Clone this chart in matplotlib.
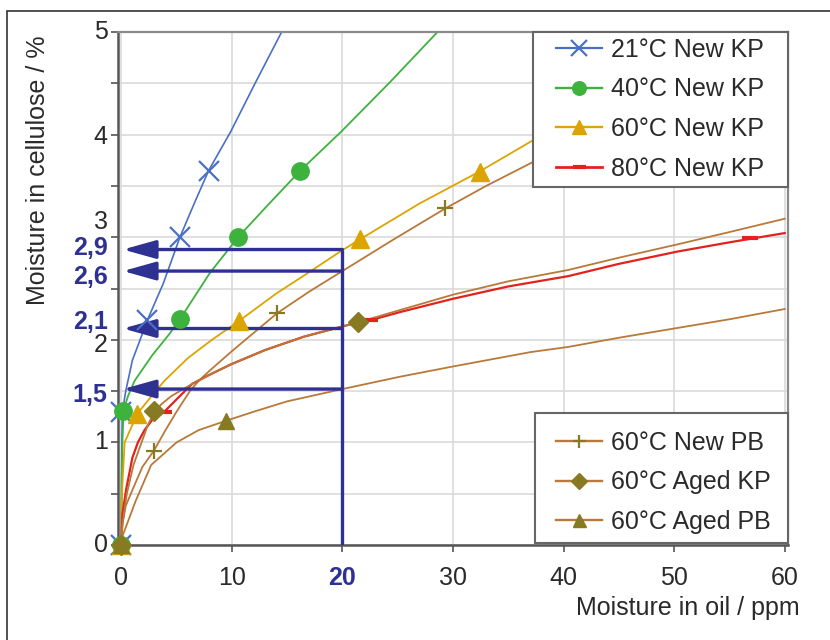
import matplotlib
matplotlib.use("Agg")
import matplotlib.pyplot as plt
from matplotlib.lines import Line2D
from matplotlib.patches import Rectangle, FancyArrowPatch

plt.rcParams['font.family'] = ['Liberation Sans', 'DejaVu Sans']

# ---------------- data ----------------
# 21°C New KP
kp21_curve_x = [0, 0.02, 0.05, 0.1, 0.4, 1.0, 1.7, 2.35, 3.8, 5.3, 6.6, 7.9, 9.9, 12.1, 14.5]
kp21_curve_y = [0, 0.5, 1.0, 1.3, 1.5, 1.8, 2.0, 2.19, 2.55, 3.0, 3.33, 3.65, 4.03, 4.5, 5.0]
kp21_mark_x = [0, 0.0, 2.35, 5.3, 7.9]
kp21_mark_y = [0, 1.3, 2.19, 3.0, 3.65]

# 40°C New KP
kp40_curve_x = [0, 0.03, 0.1, 0.2, 0.6, 1.2, 2.8, 4.3, 5.3, 8.0, 10.56, 13.4, 16.2, 19.9, 24.2, 28.6]
kp40_curve_y = [0, 0.6, 1.0, 1.31, 1.45, 1.6, 1.85, 2.05, 2.2, 2.65, 3.0, 3.33, 3.65, 4.03, 4.5, 5.0]
kp40_mark_x = [0, 0.15, 5.3, 10.56, 16.2]
kp40_mark_y = [0, 1.31, 2.2, 3.0, 3.65]

# 60°C New KP
kp60_curve_x = [0, 0.05, 0.3, 1.45, 3.1, 3.9, 6.0, 8.2, 10.6, 14.0, 17.0, 19.8, 21.6, 27.0, 32.4, 37.0, 39.0]
kp60_curve_y = [0, 0.5, 1.0, 1.28, 1.5, 1.6, 1.82, 2.0, 2.18, 2.45, 2.66, 2.86, 2.98, 3.33, 3.64, 3.93, 4.05]
kp60_mark_x = [0, 1.45, 10.6, 21.6, 32.4]
kp60_mark_y = [0, 1.28, 2.18, 2.98, 3.64]

# 80°C New KP
kp80_curve_x = [0, 0.1, 0.45, 1.0, 1.5, 2.1, 2.8, 3.9, 5.0, 6.4, 8.0, 9.9, 13.0, 16.5, 20.0, 21.4, 22.5, 25.2, 30.0, 35.0, 40.4, 45.0, 50.3, 55.0, 60.0]
kp80_curve_y = [0, 0.3, 0.55, 0.85, 1.0, 1.12, 1.22, 1.3, 1.42, 1.57, 1.66, 1.76, 1.9, 2.03, 2.13, 2.17, 2.19, 2.27, 2.4, 2.52, 2.62, 2.74, 2.86, 2.95, 3.04]
kp80_mark_x = [0, 3.9, 22.5, 56.9]
kp80_mark_y = [0, 1.3, 2.19, 2.99]

# 60°C New PB
pb60_curve_x = [0, 0.1, 0.4, 0.9, 1.9, 2.95, 4.0, 5.0, 6.2, 7.0, 8.0, 9.9, 12.0, 14.1, 17.0, 20.0, 24.5, 29.3, 33.0, 37.0, 39.0]
pb60_curve_y = [0, 0.2, 0.38, 0.51, 0.76, 0.92, 1.12, 1.3, 1.5, 1.6, 1.7, 1.88, 2.07, 2.26, 2.47, 2.67, 2.97, 3.28, 3.5, 3.72, 3.83]
pb60_mark_x = [0, 2.95, 14.1, 29.3]
pb60_mark_y = [0, 0.92, 2.26, 3.28]

# 60°C Aged KP
akp_curve_x = [0, 0.1, 0.5, 1.1, 1.9, 2.4, 2.95, 3.6, 4.5, 6.4, 8.0, 9.9, 13.0, 16.5, 20.0, 21.4, 25.2, 30.0, 35.0, 40.4, 45.0, 50.3, 55.0, 60.0]
akp_curve_y = [0, 0.2, 0.5, 0.78, 1.02, 1.17, 1.29, 1.37, 1.45, 1.57, 1.66, 1.76, 1.9, 2.03, 2.13, 2.17, 2.29, 2.44, 2.57, 2.68, 2.8, 2.93, 3.05, 3.18]
akp_mark_x = [0, 2.95, 21.4]
akp_mark_y = [0, 1.31, 2.17]

# 60°C Aged PB
apb_curve_x = [0, 0.15, 0.5, 1.3, 2.7, 5.0, 7.0, 9.45, 12.0, 15.0, 20.0, 25.2, 30.0, 37.0, 40.4, 45.0, 50.0, 55.0, 60.0]
apb_curve_y = [0, 0.1, 0.2, 0.43, 0.78, 1.0, 1.12, 1.21, 1.3, 1.4, 1.52, 1.64, 1.74, 1.88, 1.93, 2.02, 2.11, 2.2, 2.3]
apb_mark_x = [0, 9.45]
apb_mark_y = [0, 1.21]

# reading construction (arrows)
read_x = 20
arrow_levels = [2.88, 2.67, 2.11, 1.52]
arrow_labels = ["2,9", "2,6", "2,1", "1,5"]

x_ticks = [0, 10, 20, 30, 40, 50, 60]
y_ticks = [0, 1, 2, 3, 4, 5]

legend_top = ['21°C New KP', '40°C New KP', '60°C New KP', '80°C New KP']
legend_bottom = ['60°C New PB', '60°C Aged KP', '60°C Aged PB']

# ---------------- styles ----------------
C_BLUE = '#4a70c6'
C_GREEN = '#3db23d'
C_GOLD = '#dca400'
C_RED = '#e2231d'
C_BROWN = '#b8793a'
C_OLIVE = '#877a22'
C_NAVY = '#2e3192'
C_TEXT = '#2a2a2a'

W, H = 830, 640
AX_L, AX_R, AX_T, AX_B = 118, 788, 32, 545

fig = plt.figure(figsize=(W/100, H/100), dpi=100)
ax = fig.add_axes([AX_L/W, 1-AX_B/H, (AX_R-AX_L)/W, (AX_B-AX_T)/H])
ax.set_xlim(-0.3, 60.3)
ax.set_ylim(0, 5)

def ax_frac(px, py):
    return ((px-AX_L)/(AX_R-AX_L), (AX_B-py)/(AX_B-AX_T))

# grid
ax.set_xticks(x_ticks)
ax.set_yticks(y_ticks)
ax.set_yticks([0.5, 1.5, 2.5, 3.5, 4.5], minor=True)
ax.grid(True, which='major', color='#dadada', lw=1.2, zorder=0)
ax.grid(True, which='minor', axis='y', color='#dadada', lw=1.2, zorder=0)
ax.set_axisbelow(True)

series = [
    (kp21_curve_x, kp21_curve_y, kp21_mark_x, kp21_mark_y, C_BLUE, C_BLUE, 'x', 14, 1.6, 1.2, '21°C New KP'),
    (kp40_curve_x, kp40_curve_y, kp40_mark_x, kp40_mark_y, C_GREEN, C_GREEN, 'o', 12.5, 1.0, 1.3, '40°C New KP'),
    (kp60_curve_x, kp60_curve_y, kp60_mark_x, kp60_mark_y, C_GOLD, C_GOLD, '^', 13, 1.0, 1.3, '60°C New KP'),
    (pb60_curve_x, pb60_curve_y, pb60_mark_x, pb60_mark_y, C_BROWN, C_OLIVE, '+', 12, 1.6, 1.3, '60°C New PB'),
    (kp80_curve_x, kp80_curve_y, kp80_mark_x, kp80_mark_y, C_RED, C_RED, '_', 12, 3.0, 1.6, '80°C New KP'),
    (akp_curve_x, akp_curve_y, akp_mark_x, akp_mark_y, C_BROWN, C_OLIVE, 'D', 10, 1.0, 1.3, '60°C Aged KP'),
    (apb_curve_x, apb_curve_y, apb_mark_x, apb_mark_y, C_BROWN, C_OLIVE, '^', 12, 1.0, 1.3, '60°C Aged PB'),
]

handles = {}
for cx, cy, mx, my, lc, mc, mk, ms, mew, lw, lab in series:
    ax.plot(cx, cy, color=lc, lw=lw, zorder=2, clip_on=True)
    ax.plot(mx, my, linestyle='none', marker=mk, ms=ms, color=mc, mec=mc,
            mew=mew, zorder=5, clip_on=False)
    handles[lab] = Line2D([], [], color=lc, lw=lw + 0.4, marker=mk, ms=ms*0.78,
                          mfc=mc, mec=mc, mew=mew)

# reading arrows
for lvl in arrow_levels:
    arr = FancyArrowPatch((read_x, lvl), (0.15, lvl),
                          arrowstyle='-|>,head_length=1.0,head_width=0.28',
                          mutation_scale=20, color=C_NAVY, lw=2.4,
                          shrinkA=0, shrinkB=0, zorder=4)
    ax.add_patch(arr)
ax.plot([read_x, read_x], [0, max(arrow_levels)], color=C_NAVY, lw=2.4,
        zorder=4, solid_capstyle='butt')

label_offsets = [1, -4, 5, -4]   # points, vertical nudges
for lvl, txt, off in zip(arrow_levels, arrow_labels, label_offsets):
    ax.annotate(txt, xy=(0, lvl), xycoords=('axes fraction', 'data'),
                xytext=(-7.5, off), textcoords='offset points',
                ha='right', va='center', fontsize=18, fontweight='bold',
                color=C_NAVY)

# spines and ticks
for s in ['left', 'bottom']:
    ax.spines[s].set_color('#555555')
    ax.spines[s].set_linewidth(1.8)
for s in ['top', 'right']:
    ax.spines[s].set_color('#8a8a8a')
    ax.spines[s].set_linewidth(1.6)
ax.tick_params(axis='both', which='both', direction='out', length=5,
               width=1.2, color='#555555', labelsize=18, labelcolor=C_TEXT)
ax.tick_params(axis='x', pad=10)
ax.set_xticklabels([str(t) for t in x_ticks])
for t in ax.get_xticklabels():
    if t.get_text() == str(read_x):
        t.set_color(C_NAVY)
        t.set_fontweight('bold')

# y tick labels (nudged as in the original to clear the reading labels)
ax.set_yticklabels([])
ytick_nudge = {3: 11, 2: -3.5, 4: -1.5}
for t in y_ticks:
    ax.annotate(str(t), xy=(0, t), xycoords=('axes fraction', 'data'),
                xytext=(-7.5, ytick_nudge.get(t, 0)), textcoords='offset points',
                ha='right', va='center', fontsize=18, color=C_TEXT)

# legends: frames drawn as boxes, entries as frameless legends
def legend_box(px0, py0, px1, py1):
    x0, y0 = ax_frac(px0, py1)
    x1, y1 = ax_frac(px1, py0)
    r = Rectangle((x0, y0), x1-x0, y1-y0, transform=ax.transAxes,
                  facecolor='white', edgecolor='#666666', lw=1.5, zorder=9,
                  clip_on=False)
    ax.add_patch(r)

legend_box(533, 32, 788, 187)
legend_box(535, 413, 788, 543)

common = dict(frameon=False, fontsize=18, handlelength=1.84, handletextpad=0.37,
              labelspacing=0.62, borderpad=0, borderaxespad=0, loc='upper left',
              labelcolor=C_TEXT)
leg1 = ax.legend([handles[k] for k in legend_top], legend_top,
                 bbox_to_anchor=ax_frac(556, 38), **common)
leg1.set_zorder(10)
ax.add_artist(leg1)
leg2 = ax.legend([handles[k] for k in legend_bottom], legend_bottom,
                 bbox_to_anchor=ax_frac(556, 431), **common)
leg2.set_zorder(10)

# axis labels
fig.text(800/W, 1-608/H, 'Moisture in oil / ppm', ha='right', va='center',
         fontsize=18, color=C_TEXT)
fig.text(38/W, 1-170/H, 'Moisture in cellulose / %', ha='center', va='center',
         rotation=90, fontsize=18, color=C_TEXT)

# figure frame (top and left edges visible)
fig.patches.append(Rectangle((7/W, -0.2), 1.5, 1.2 - 11/H, transform=fig.transFigure,
                             fill=False, edgecolor='#333333', lw=1.2))

fig.savefig('out.png', dpi=100)
